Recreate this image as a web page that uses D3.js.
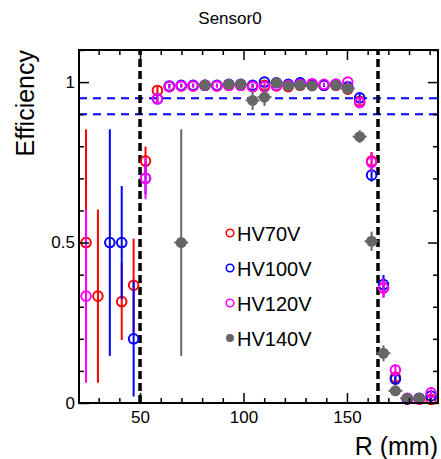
<!DOCTYPE html>
<html>
<head>
<meta charset="utf-8">
<script src="https://cdn.jsdelivr.net/npm/d3@7"></script>
<style>
  body { margin: 0; background: #fff; }
  text { font-family: "Liberation Sans", Arial, Helvetica, sans-serif; fill: #000; }
</style>
</head>
<body>
<div id="container"></div>
<script>
/* DATA */
// bin centres, R (mm)
const binR = [23.9, 29.65, 35.4, 41.15, 46.9, 52.65, 58.4, 64.15, 69.9, 75.65,
  81.4, 87.15, 92.9, 98.65, 104.4, 110.15, 115.9, 121.65, 127.4, 133.15,
  138.9, 144.65, 150.4, 156.15, 161.9, 167.65, 173.4, 179.15, 184.9, 190.65];

const eff70 = [0.5, 0.333, null, 0.316, 0.367, 0.754, 0.974, 0.986, 0.988, 0.988,
  0.99, 0.988, 0.99, 0.99, 0.986, 0.99, 0.988, 0.986, 0.99, 0.99,
  0.99, 0.99, 0.978, 0.94, 0.754, 0.36, 0.08, 0.012, 0.012, 0.011];
const err70 = [0.353, 0.27, null, 0.12, 0.145, 0.045, 0.012, 0.006, 0.005, 0.005,
  0.005, 0.005, 0.005, 0.005, 0.006, 0.005, 0.005, 0.005, 0.005, 0.005,
  0.005, 0.005, 0.008, 0.012, 0.028, 0.03, 0.015, 0.008, 0.008, 0.008];

const eff100 = [null, null, 0.5, 0.5, 0.2, 0.70, 0.948, 0.988, 0.99, 0.99,
  0.99, 0.99, 0.993, 0.993, 0.99, 1.0, 0.998, 0.993, 0.998, 0.993,
  0.99, 0.993, 0.985, 0.951, 0.71, 0.369, 0.074, 0.013, 0.015, 0.022];
const err100 = [null, null, 0.353, 0.176, 0.18, 0.05, 0.015, 0.006, 0.005, 0.005,
  0.005, 0.005, 0.005, 0.005, 0.005, 0.004, 0.004, 0.005, 0.004, 0.005,
  0.005, 0.005, 0.008, 0.012, 0.02, 0.03, 0.015, 0.008, 0.008, 0.01];

const eff120 = [0.333, null, null, null, null, 0.70, 0.948, 0.986, 0.988, 0.988,
  0.99, 0.988, 0.99, 0.99, 0.986, 0.985, 0.99, 0.99, 0.993, 0.995,
  0.993, 0.993, 1.0, 0.936, 0.75, 0.358, 0.103, 0.015, 0.013, 0.032];
const err120 = [0.27, null, null, null, null, 0.065, 0.015, 0.006, 0.005, 0.005,
  0.005, 0.005, 0.005, 0.005, 0.006, 0.006, 0.005, 0.005, 0.005, 0.004,
  0.005, 0.005, 0.004, 0.012, 0.03, 0.03, 0.018, 0.008, 0.008, 0.01];

const eff140 = [null, null, null, null, null, null, null, null, 0.5, null,
  0.99, null, 0.993, 0.993, 0.943, 0.953, 0.998, 0.988, 0.99, 0.988,
  null, 0.99, 0.98, 0.83, 0.504, 0.155, 0.038, 0.015, 0.015, null];
const err140 = [null, null, null, null, null, null, null, null, 0.353, null,
  0.005, null, 0.005, 0.005, 0.03, 0.027, 0.004, 0.005, 0.005, 0.005,
  null, 0.005, 0.008, 0.02, 0.03, 0.025, 0.01, 0.006, 0.006, null];

const seriesNames = ["HV70V", "HV100V", "HV120V", "HV140V"];
const seriesColors = ["#ff0000", "#0000ff", "#ff00ff", "#666666"];
const seriesVals = [eff70, eff100, eff120, eff140];
const seriesErrs = [err70, err100, err120, err140];

const xMajor = [50, 100, 150];
const xMinor = [30, 40, 60, 70, 80, 90, 110, 120, 130, 140, 160, 170, 180, 190];
const yMajor = [0, 0.5, 1];
const yMinor = [0.1, 0.2, 0.3, 0.4, 0.6, 0.7, 0.8, 0.9, 1.1];
const effLines = [0.95, 0.9];   // blue dashed reference lines
const edgeLines = [50, 165];    // black dashed sensor edges

/* CONSTANTS */
const width = 441, height = 459;
const mLeft = 79, mRight = 438, mTop = 50, mBottom = 403;

/* SCALES */
const x = d3.scaleLinear().domain([20.5, 194]).range([mLeft, mRight]);
const y = d3.scaleLinear().domain([0, 1.1]).range([mBottom, mTop]);

const svg = d3.select("#container").append("svg")
  .attr("width", width)
  .attr("height", height);

// title
svg.append("text")
  .attr("x", 230).attr("y", 24)
  .attr("text-anchor", "middle")
  .style("font-size", "17px")
  .text("Sensor0");

// reference lines
svg.selectAll("line.eff")
  .data(effLines)
  .join("line")
  .attr("class", "eff")
  .attr("x1", mLeft).attr("x2", mRight)
  .attr("y1", d => y(d)).attr("y2", d => y(d))
  .attr("stroke", "#0000ff")
  .attr("stroke-width", 2)
  .attr("stroke-dasharray", "8,6");

svg.selectAll("line.edge")
  .data(edgeLines)
  .join("line")
  .attr("class", "edge")
  .attr("x1", d => x(d)).attr("x2", d => x(d))
  .attr("y1", mBottom).attr("y2", mTop)
  .attr("stroke", "#000")
  .attr("stroke-width", 3.5)
  .attr("stroke-dasharray", "8,4");

// points with error bars
seriesVals.forEach((vals, s) => {
  const col = seriesColors[s];
  const pts = binR.map((r, i) => ({ r: r, v: vals[i], e: seriesErrs[s][i] }))
    .filter(d => d.v !== null);
  const g = svg.append("g");
  g.selectAll("line.err")
    .data(pts)
    .join("line")
    .attr("class", "err")
    .attr("x1", d => x(d.r)).attr("x2", d => x(d.r))
    .attr("y1", d => y(Math.max(0, d.v - d.e)))
    .attr("y2", d => y(Math.min(1.1, d.v + d.e)))
    .attr("stroke", col)
    .attr("stroke-width", 2);
  if (s === 3) {
    g.selectAll("line.xerr")
      .data(pts)
      .join("line")
      .attr("class", "xerr")
      .attr("x1", d => x(d.r) - 7).attr("x2", d => x(d.r) + 7)
      .attr("y1", d => y(d.v)).attr("y2", d => y(d.v))
      .attr("stroke", col)
      .attr("stroke-width", 2);
    g.selectAll("circle")
      .data(pts)
      .join("circle")
      .attr("cx", d => x(d.r)).attr("cy", d => y(d.v))
      .attr("r", 5.5)
      .attr("fill", col);
  } else {
    g.selectAll("circle")
      .data(pts)
      .join("circle")
      .attr("cx", d => x(d.r)).attr("cy", d => y(d.v))
      .attr("r", 4.8)
      .attr("fill", "none")
      .attr("stroke", col)
      .attr("stroke-width", 2);
  }
});

// frame + inward ticks on all sides
svg.append("rect")
  .attr("x", mLeft).attr("y", mTop)
  .attr("width", mRight - mLeft).attr("height", mBottom - mTop)
  .attr("fill", "none")
  .attr("stroke", "#000")
  .attr("stroke-width", 2);

const axisStyle = g => { g.select(".domain").remove(); g.selectAll("line").attr("stroke-width", 1.5); };

svg.append("g").attr("transform", `translate(0,${mBottom})`)
  .call(d3.axisBottom(x).tickValues(xMajor).tickSize(-10).tickPadding(8).tickFormat(d3.format("d")))
  .call(axisStyle)
  .call(g => g.selectAll("text").style("font-size", "17px").attr("y", 5).attr("dy", "0.9em"));
svg.append("g").attr("transform", `translate(0,${mBottom})`)
  .call(d3.axisBottom(x).tickValues(xMinor).tickSize(-5).tickFormat(""))
  .call(axisStyle);
svg.append("g").attr("transform", `translate(0,${mTop})`)
  .call(d3.axisTop(x).tickValues(xMajor).tickSize(-10).tickFormat(""))
  .call(axisStyle);
svg.append("g").attr("transform", `translate(0,${mTop})`)
  .call(d3.axisTop(x).tickValues(xMinor).tickSize(-5).tickFormat(""))
  .call(axisStyle);

svg.append("g").attr("transform", `translate(${mLeft},0)`)
  .call(d3.axisLeft(y).tickValues(yMajor).tickSize(-10).tickPadding(4).tickFormat(d => d === 0.5 ? "0.5" : d3.format("d")(d)))
  .call(axisStyle)
  .call(g => g.selectAll("text").style("font-size", "17px").attr("x", -4));
svg.append("g").attr("transform", `translate(${mLeft},0)`)
  .call(d3.axisLeft(y).tickValues(yMinor).tickSize(-5).tickFormat(""))
  .call(axisStyle);
svg.append("g").attr("transform", `translate(${mRight},0)`)
  .call(d3.axisRight(y).tickValues(yMajor).tickSize(-10).tickFormat(""))
  .call(axisStyle);
svg.append("g").attr("transform", `translate(${mRight},0)`)
  .call(d3.axisRight(y).tickValues(yMinor).tickSize(-5).tickFormat(""))
  .call(axisStyle);

// axis titles
svg.append("text")
  .attr("x", mRight).attr("y", 455)
  .attr("text-anchor", "end")
  .style("font-size", "25px")
  .text("R (mm)");
svg.append("text")
  .attr("transform", `translate(34,${mTop}) rotate(-90)`)
  .attr("text-anchor", "end")
  .style("font-size", "25px")
  .text("Efficiency");

// legend
const legend = svg.append("g");
seriesNames.forEach((name, i) => {
  const cy = 233 + i * 35;
  if (i === 3) {
    legend.append("circle").attr("cx", 230).attr("cy", cy).attr("r", 4).attr("fill", seriesColors[i]);
  } else {
    legend.append("circle").attr("cx", 230).attr("cy", cy).attr("r", 3.8)
      .attr("fill", "none").attr("stroke", seriesColors[i]).attr("stroke-width", 1.6);
  }
  legend.append("text")
    .attr("x", 237).attr("y", cy + 8)
    .style("font-size", "20px")
    .text(name);
});
</script>
</body>
</html>
